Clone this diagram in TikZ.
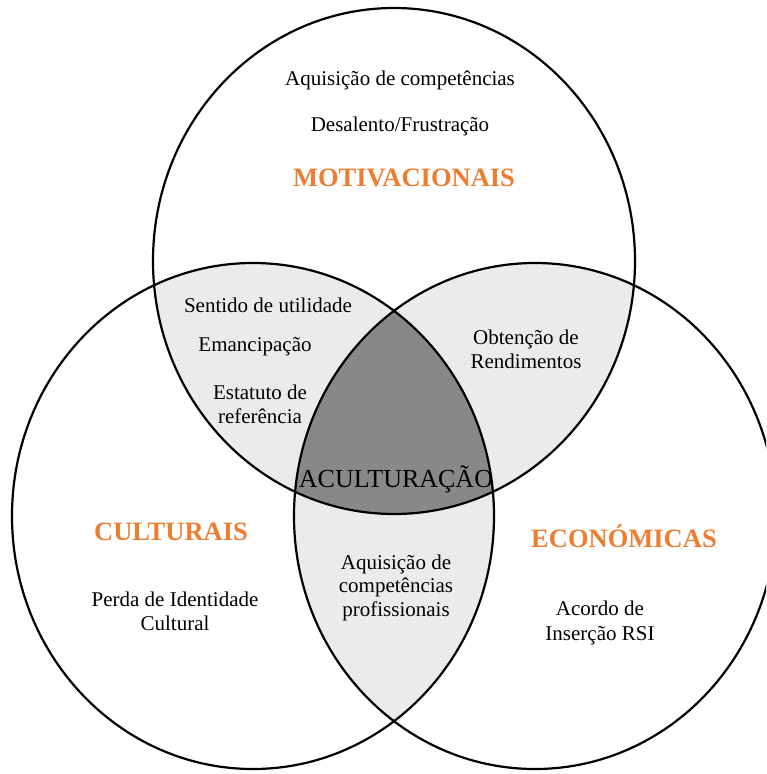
\documentclass[tikz,border=0pt]{standalone}
\usepackage{fontspec}
\setmainfont{Liberation Serif}
\definecolor{orng}{HTML}{ED7D31}
\definecolor{lightg}{HTML}{EAECEB}
\definecolor{darkg}{HTML}{888888}
\begin{document}
\begin{tikzpicture}[x=1pt,y=-1pt,
  txt/.style={font=\fontsize{21}{24.5}\selectfont, inner sep=0pt, anchor=base},
  big/.style={font=\fontsize{26}{30}\selectfont, inner sep=0pt, anchor=base},
  cat/.style={font=\fontsize{26.5}{30}\selectfont\bfseries, text=orng, inner sep=0pt, anchor=base},
  ring/.style={draw=black, line width=2.2pt}]
\useasboundingbox (0,0) rectangle (766,774);
\clip (0,0) rectangle (766,774);
\def\topE{(394,261) ellipse [x radius=241pt, y radius=253pt]}
\def\leftE{(253,516) ellipse [x radius=241pt, y radius=253pt]}
\def\rightE{(535,516) ellipse [x radius=241pt, y radius=253pt]}
% pairwise overlaps
\begin{scope}\clip \topE; \fill[lightg] \leftE; \fill[lightg] \rightE; \end{scope}
\begin{scope}\clip \leftE; \fill[lightg] \rightE; \end{scope}
% triple overlap
\begin{scope}\clip \topE; \clip \leftE; \fill[darkg] \rightE; \end{scope}
% outlines
\draw[ring] \topE;
\draw[ring] \leftE;
\draw[ring] \rightE;
% texts
\node[txt] (t1) at (400,85) {Aquisição de competências};
\node[txt] (t2) at (400,131) {Desalento/Frustração};
\node[cat] (mot) at (404,186) {MOTIVACIONAIS};
\node[txt] (s1) at (268,312) {Sentido de utilidade};
\node[txt] (s2) at (255,351) {Emancipação};
\node[txt] (s3) at (260,399) {Estatuto de};
\node[txt] (s4) at (260,423) {referência};
\node[txt] (o1) at (526,344) {Obtenção de};
\node[txt] (o2) at (526,368) {Rendimentos};
\node[big] (ac) at (396,487) {ACULTURAÇÃO};
\node[cat] (cul) at (171,540) {CULTURAIS};
\node[cat] (eco) at (624,547) {ECONÓMICAS};
\node[txt] (p1) at (175,606) {Perda de Identidade};
\node[txt] (p2) at (175,630) {Cultural};
\node[txt] (a1) at (396,569) {Aquisição de};
\node[txt] (a2) at (396,592) {competências};
\node[txt] (a3) at (396,616) {profissionais};
\node[txt] (r1) at (600,615) {Acordo de};
\node[txt] (r2) at (600,640) {Inserção RSI};
\end{tikzpicture}
\end{document}
